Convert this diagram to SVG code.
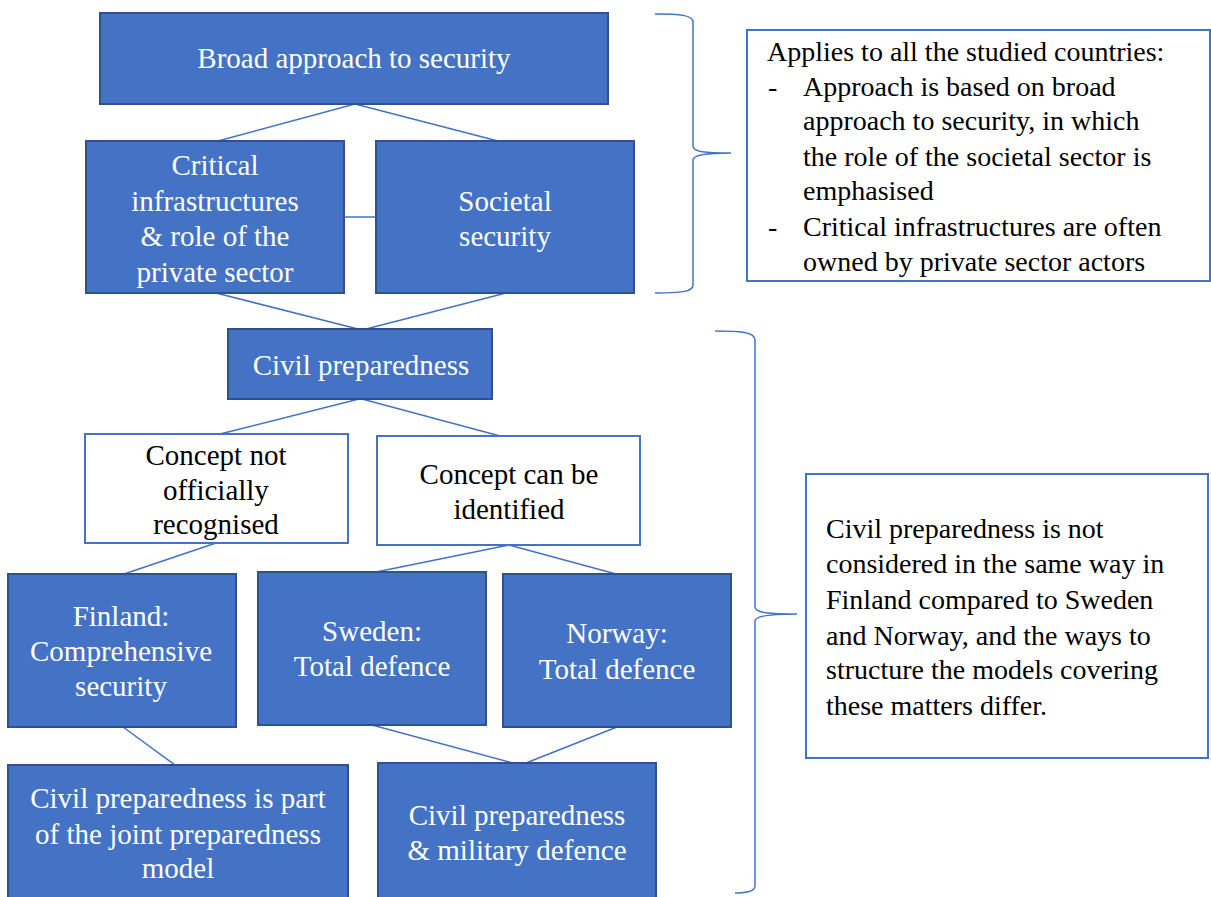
<svg xmlns="http://www.w3.org/2000/svg" width="1211" height="897" viewBox="0 0 1211 897" font-family="Liberation Serif">
  <style>
    text { font-family: 'Liberation Serif', serif; }
    .blue { fill: #4472C4; stroke: #2F528F; stroke-width: 2; }
    .white { fill: #FFFFFF; stroke: #4472C4; stroke-width: 2; }
    .link { stroke: #4472C4; stroke-width: 1.5; fill: none; }
    .brace { stroke: #4472C4; stroke-width: 1.5; fill: none; }
  </style>
  <rect width="1211" height="897" fill="#FFFFFF"/>

  <!-- connectors -->
  <g id="connectors">
    <line class="link" x1="355" y1="104" x2="218" y2="141"/>
    <line class="link" x1="355" y1="104" x2="498" y2="141"/>
    <line class="link" x1="344" y1="217" x2="376" y2="217"/>
    <line class="link" x1="216" y1="293" x2="358" y2="329"/>
    <line class="link" x1="506" y1="293" x2="366" y2="329"/>
    <line class="link" x1="359" y1="399" x2="220" y2="434" stroke-width="2.5"/>
    <line class="link" x1="362" y1="399" x2="500" y2="436"/>
    <line class="link" x1="216" y1="543" x2="124" y2="574"/>
    <line class="link" x1="509" y1="545" x2="376" y2="572"/>
    <line class="link" x1="509" y1="545" x2="616" y2="574"/>
    <line class="link" x1="123" y1="727" x2="175" y2="765"/>
    <line class="link" x1="372" y1="725" x2="513" y2="763"/>
    <line class="link" x1="617" y1="727" x2="526" y2="763"/>
  </g>

  <!-- braces -->
  <g id="braces">
    <path class="brace" d="M655,14 C680,14 693,15 693,22 L693,146 C693,152 705,153 731,153 C705,153 693,155 693,160 L693,285 C693,292 680,293 655,293"/>
    <path class="brace" d="M715,331 C740,331 755,332 755,340 L755,607 C755,613 770,614 797,614 C770,614 755,616 755,621 L755,886 C755,892 745,893 735,893"/>
  </g>

  <!-- blue and white boxes, labels centred -->
  <g id="broad-approach">
    <rect class="blue" x="100" y="13" width="508" height="91"/>
    <text font-family="Liberation Serif" font-size="29" fill="#FFFFFF" text-anchor="middle" x="354" y="68">Broad approach to security</text>
  </g>

  <g id="critical-infrastructures" font-family="Liberation Serif" font-size="29" fill="#FFFFFF" text-anchor="middle">
    <rect class="blue" x="86" y="141" width="258" height="152"/>
    <text font-family="Liberation Serif" x="215" y="175">Critical</text>
    <text font-family="Liberation Serif" x="215" y="211">infrastructures</text>
    <text font-family="Liberation Serif" x="215" y="246">&amp; role of the</text>
    <text font-family="Liberation Serif" x="215" y="282">private sector</text>
  </g>

  <g id="societal-security" font-family="Liberation Serif" font-size="29" fill="#FFFFFF" text-anchor="middle">
    <rect class="blue" x="376" y="141" width="258" height="152"/>
    <text font-family="Liberation Serif" x="505" y="211">Societal</text>
    <text font-family="Liberation Serif" x="505" y="246">security</text>
  </g>

  <g id="civil-preparedness" font-family="Liberation Serif" font-size="29" fill="#FFFFFF" text-anchor="middle">
    <rect class="blue" x="228" y="329" width="264" height="70"/>
    <text font-family="Liberation Serif" x="361" y="375">Civil preparedness</text>
  </g>

  <g id="concept-not-recognised" font-family="Liberation Serif" font-size="29" fill="#000000" text-anchor="middle">
    <rect class="white" x="85" y="434" width="263" height="109"/>
    <text font-family="Liberation Serif" x="216" y="465">Concept not</text>
    <text font-family="Liberation Serif" x="216" y="500">officially</text>
    <text font-family="Liberation Serif" x="216" y="534">recognised</text>
  </g>

  <g id="concept-identified" font-family="Liberation Serif" font-size="29" fill="#000000" text-anchor="middle">
    <rect class="white" x="377" y="436" width="263" height="109"/>
    <text font-family="Liberation Serif" x="509" y="484">Concept can be</text>
    <text font-family="Liberation Serif" x="509" y="519">identified</text>
  </g>

  <g id="finland" font-family="Liberation Serif" font-size="29" fill="#FFFFFF" text-anchor="middle">
    <rect class="blue" x="8" y="574" width="228" height="153"/>
    <text font-family="Liberation Serif" x="121" y="626">Finland:</text>
    <text font-family="Liberation Serif" x="121" y="661">Comprehensive</text>
    <text font-family="Liberation Serif" x="121" y="696">security</text>
  </g>

  <g id="sweden" font-family="Liberation Serif" font-size="29" fill="#FFFFFF" text-anchor="middle">
    <rect class="blue" x="258" y="572" width="228" height="153"/>
    <text font-family="Liberation Serif" x="372" y="641">Sweden:</text>
    <text font-family="Liberation Serif" x="372" y="676">Total defence</text>
  </g>

  <g id="norway" font-family="Liberation Serif" font-size="29" fill="#FFFFFF" text-anchor="middle">
    <rect class="blue" x="503" y="574" width="228" height="153"/>
    <text font-family="Liberation Serif" x="617" y="643">Norway:</text>
    <text font-family="Liberation Serif" x="617" y="679">Total defence</text>
  </g>

  <g id="joint-preparedness" font-family="Liberation Serif" font-size="29" fill="#FFFFFF" text-anchor="middle">
    <rect class="blue" x="8" y="765" width="340" height="140"/>
    <text font-family="Liberation Serif" x="178" y="808">Civil preparedness is part</text>
    <text font-family="Liberation Serif" x="178" y="844">of the joint preparedness</text>
    <text font-family="Liberation Serif" x="178" y="878">model</text>
  </g>

  <g id="military-defence" font-family="Liberation Serif" font-size="29" fill="#FFFFFF" text-anchor="middle">
    <rect class="blue" x="378" y="763" width="278" height="142"/>
    <text font-family="Liberation Serif" x="517" y="825">Civil preparedness</text>
    <text font-family="Liberation Serif" x="517" y="860">&amp; military defence</text>
  </g>

  <!-- side notes -->
  <g id="note-all-countries" font-family="Liberation Serif" font-size="28" fill="#000000">
    <rect class="white" x="747" y="30" width="463" height="251"/>
    <text font-family="Liberation Serif" x="767" y="61">Applies to all the studied countries:</text>
    <text font-family="Liberation Serif" x="768" y="96">-</text>
    <text font-family="Liberation Serif" x="803" y="96">Approach is based on broad</text>
    <text font-family="Liberation Serif" x="803" y="130">approach to security, in which</text>
    <text font-family="Liberation Serif" x="803" y="166">the role of the societal sector is</text>
    <text font-family="Liberation Serif" x="803" y="200">emphasised</text>
    <text font-family="Liberation Serif" x="768" y="236">-</text>
    <text font-family="Liberation Serif" x="803" y="236">Critical infrastructures are often</text>
    <text font-family="Liberation Serif" x="803" y="271">owned by private sector actors</text>
  </g>

  <g id="note-civil-preparedness" font-family="Liberation Serif" font-size="28" fill="#000000">
    <rect class="white" x="806" y="474" width="402" height="284"/>
    <text font-family="Liberation Serif" x="826" y="538">Civil preparedness is not</text>
    <text font-family="Liberation Serif" x="826" y="573">considered in the same way in</text>
    <text font-family="Liberation Serif" x="826" y="609">Finland compared to Sweden</text>
    <text font-family="Liberation Serif" x="826" y="645">and Norway, and the ways to</text>
    <text font-family="Liberation Serif" x="826" y="679">structure the models covering</text>
    <text font-family="Liberation Serif" x="826" y="715">these matters differ.</text>
  </g>
</svg>
